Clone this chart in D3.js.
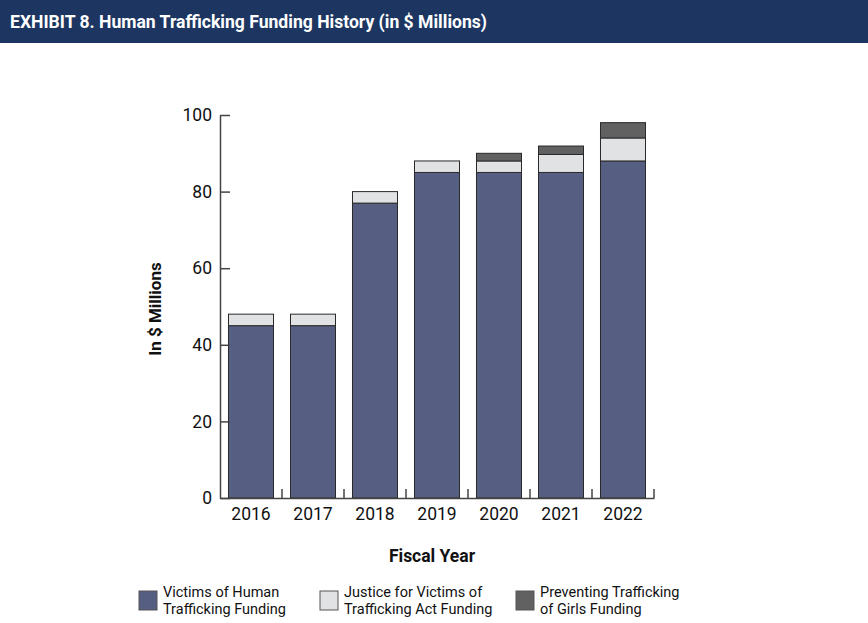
<!DOCTYPE html>
<html>
<head>
<meta charset="utf-8">
<script src="https://cdn.jsdelivr.net/npm/d3@7"></script>
<style>
  body { margin: 0; background: #fff; }
  svg { display: block; font-family: Roboto, "Noto Sans", sans-serif; }
</style>
</head>
<body>
<svg id="chart" width="868" height="623"></svg>
<script>
const years = ["2016", "2017", "2018", "2019", "2020", "2021", "2022"];
const victimsFunding = [45, 45, 77, 85, 85, 85, 88];
const justiceFunding = [3, 3, 3, 3, 3, 4.7, 6];
const girlsFunding = [0, 0, 0, 0, 2, 2.2, 4];
const yTicks = [0, 20, 40, 60, 80, 100];

const seriesKeys = ["victims", "justice", "girls"];
const seriesNames = {
	victims: ["Victims of Human", "Trafficking Funding"],
	justice: ["Justice for Victims of", "Trafficking Act Funding"],
	girls: ["Preventing Trafficking", "of Girls Funding"]
};
const seriesColours = { victims: "#565e82", justice: "#e1e2e4", girls: "#616161" };

const svg = d3.select("#chart");

// header band
svg.append("rect").attr("x", 0).attr("y", 0).attr("width", 868).attr("height", 43).attr("fill", "#1c3661");
svg.append("text")
	.attr("x", 10).attr("y", 28)
	.attr("fill", "#fff")
	.attr("font-weight", "bold")
	.attr("font-size", 18)
	.attr("textLength", 477)
	.attr("lengthAdjust", "spacingAndGlyphs")
	.text("EXHIBIT 8. Human Trafficking Funding History (in $ Millions)");

const rows = years.map((y, i) => ({ year: y, victims: victimsFunding[i], justice: justiceFunding[i], girls: girlsFunding[i] }));
const stacked = d3.stack().keys(seriesKeys)(rows);

const x = d3.scaleBand().domain(years).range([220, 654]).paddingInner(0.274).paddingOuter(0.137);
const y = d3.scaleLinear().domain([0, 100]).range([498, 115]);

// bars
svg.append("g")
	.selectAll("g")
	.data(stacked)
	.join("g")
	.attr("fill", d => seriesColours[d.key])
	.selectAll("rect")
	.data(d => d.filter(p => p[1] - p[0] > 0))
	.join("rect")
	.attr("x", d => x(d.data.year))
	.attr("width", x.bandwidth())
	.attr("y", d => y(d[1]))
	.attr("height", d => y(d[0]) - y(d[1]))
	.attr("stroke", "#2a2a2a")
	.attr("stroke-width", 1);

// y axis: inward ticks
const yAxis = svg.append("g")
	.attr("transform", "translate(220,0)")
	.call(d3.axisLeft(y).tickValues(yTicks).tickSize(-10).tickPadding(8).tickSizeOuter(0));
yAxis.select(".domain").attr("stroke", "#444").attr("stroke-width", 1.5);
yAxis.selectAll(".tick line").attr("stroke", "#444").attr("stroke-width", 1.5);
yAxis.selectAll(".tick text").attr("font-size", 17.5).attr("fill", "#111").attr("font-family", "Roboto, sans-serif");

// x axis: ticks on band boundaries, pointing up
const xAxis = svg.append("g")
	.attr("transform", "translate(0,498)")
	.call(d3.axisBottom(x).tickSize(0).tickPadding(10).tickSizeOuter(0));
xAxis.select(".domain").attr("stroke", "#444").attr("stroke-width", 1.5);
xAxis.selectAll(".tick text").attr("font-size", 17.5).attr("fill", "#111").attr("font-family", "Roboto, sans-serif");
xAxis.selectAll(".boundary")
	.data(years)
	.join("line")
	.attr("class", "boundary")
	.attr("x1", d => x(d) + x.bandwidth() + x.step() * x.paddingInner() / 2)
	.attr("x2", d => x(d) + x.bandwidth() + x.step() * x.paddingInner() / 2)
	.attr("y1", 0).attr("y2", -9)
	.attr("stroke", "#444").attr("stroke-width", 1.5);

// axis titles
svg.append("text")
	.attr("transform", "translate(161,309) rotate(-90)")
	.attr("text-anchor", "middle")
	.attr("font-weight", "bold").attr("font-size", 17).attr("fill", "#111")
	.text("In $ Millions");
svg.append("text")
	.attr("x", 432).attr("y", 562)
	.attr("text-anchor", "middle")
	.attr("font-weight", "bold").attr("font-size", 17.5).attr("fill", "#111")
	.text("Fiscal Year");

// legend
const legendX = [139, 320, 516];
const legend = svg.append("g");
seriesKeys.forEach((k, i) => {
	const g = legend.append("g").attr("transform", `translate(${legendX[i]},591)`);
	g.append("rect").attr("width", 18).attr("height", 19)
		.attr("fill", seriesColours[k]).attr("stroke", "#555").attr("stroke-width", 1);
	g.append("text")
		.attr("x", 24).attr("y", 6)
		.attr("font-size", 14.5).attr("fill", "#111")
		.selectAll("tspan")
		.data(seriesNames[k])
		.join("tspan")
		.attr("x", 24)
		.attr("dy", (d, j) => j === 0 ? 0 : 17)
		.text(d => d);
});
</script>
</body>
</html>
